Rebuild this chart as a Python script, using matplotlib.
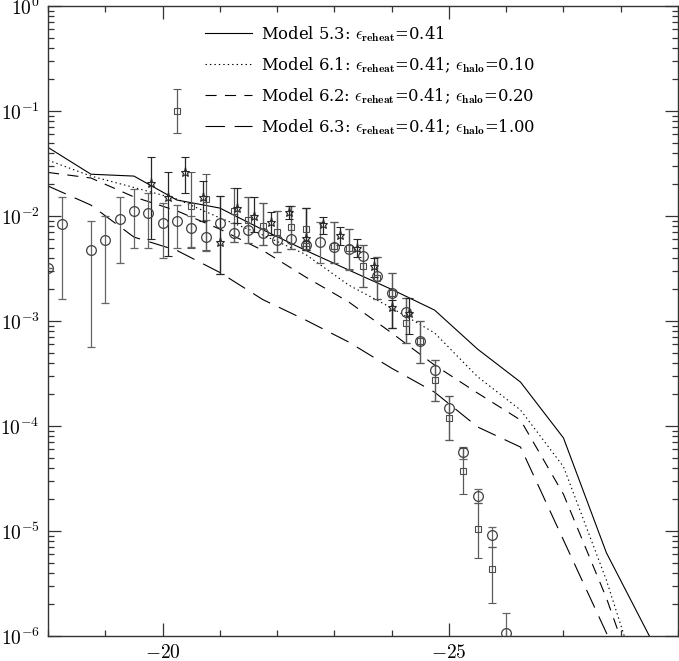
import matplotlib
matplotlib.use("Agg")
import numpy as np
import matplotlib.pyplot as plt
from matplotlib.ticker import MultipleLocator, LogLocator, NullFormatter

plt.rcParams['font.family'] = 'serif'
plt.rcParams['font.serif'] = ['cmr10', 'DejaVu Serif']
plt.rcParams['mathtext.fontset'] = 'cm'
plt.rcParams['axes.formatter.use_mathtext'] = True
plt.rcParams['axes.unicode_minus'] = True
plt.rcParams['lines.scale_dashes'] = False

# model curves (magnitude grid)
model_mag = [-18.0, -18.75, -19.5, -20.25, -21.0, -21.75, -22.5, -23.25,
             -24.0, -24.75, -25.5, -26.25, -27.0, -27.75, -28.5]
model_53 = [4.5e-2, 2.5e-2, 2.4e-2, 1.42e-2, 1.19e-2, 7.4e-3, 4.7e-3, 3.06e-3,
            2.0e-3, 1.27e-3, 5.4e-4, 2.62e-4, 7.7e-5, 6.2e-6, 1.0e-6]
model_61 = [3.4e-2, 2.4e-2, 1.87e-2, 1.45e-2, 9.6e-3, 6.6e-3, 4.3e-3, 2.2e-3,
            1.33e-3, 7.7e-4, 2.95e-4, 1.42e-4, 4.1e-5, 3.4e-6, 1.8e-7]
model_62 = [2.6e-2, 2.3e-2, 1.52e-2, 1.12e-2, 7.5e-3, 4.7e-3, 2.62e-3, 1.52e-3,
            7.7e-4, 3.8e-4, 2.06e-4, 1.14e-4, 2.24e-5, 2.3e-6, 1.6e-7]
model_63 = [1.93e-2, 1.27e-2, 6.3e-3, 4.7e-3, 2.9e-3, 1.6e-3, 1.02e-3, 6.3e-4,
            3.55e-4, 2.1e-4, 9.8e-5, 6.3e-5, 8.2e-6, 1.07e-6, 1.0e-7]

# circles
circ_mag = [-18.0, -18.25, -18.75, -19.0, -19.25, -19.5, -19.75, -20.0, -20.25,
            -20.5, -20.75, -21.0, -21.25, -21.5, -21.75, -22.0, -22.25, -22.5,
            -22.75, -23.0, -23.25, -23.5, -23.75, -24.0, -24.25, -24.5, -24.75,
            -25.0, -25.25, -25.5, -25.75, -26.0]
circ_phi = [3.2e-3, 8.4e-3, 4.7e-3, 5.9e-3, 9.4e-3, 1.12e-2, 1.07e-2, 8.6e-3, 9.0e-3,
            7.7e-3, 6.3e-3, 8.6e-3, 6.9e-3, 7.4e-3, 6.9e-3, 5.9e-3, 6.0e-3, 5.3e-3,
            5.65e-3, 5.1e-3, 4.85e-3, 4.16e-3, 2.68e-3, 1.85e-3, 1.22e-3, 6.45e-4, 3.4e-4,
            1.48e-4, 5.65e-5, 2.15e-5, 9.2e-6, 1.07e-6]
circ_lo = [3.2e-3, 1.62e-3, 5.6e-4, 1.48e-3, 3.6e-3, 5.0e-3, 5.0e-3, 4.0e-3, 5.0e-3,
           5.1e-3, 4.6e-3, 2.8e-3, 5.7e-3, 5.5e-3, 5.3e-3, 4.5e-3, 4.85e-3, 4.7e-3,
           3.56e-3, 3.56e-3, 3.06e-3, 2.1e-3, 1.62e-3, 8.6e-4, 6.2e-4, 4.0e-4, 1.73e-4,
           7.4e-5, 4.9e-5, 1.85e-5, 7.1e-6, 5.0e-7]
circ_hi = [3.2e-3, 1.52e-2, 9.0e-3, 1.0e-2, 1.52e-2, 1.8e-2, 1.65e-2, 1.33e-2, 1.27e-2,
           1.0e-2, 9.2e-3, 1.55e-2, 8.5e-3, 1.52e-2, 1.33e-2, 1.12e-2, 1.24e-2, 1.19e-2,
           8.8e-3, 8.8e-3, 7.5e-3, 5.3e-3, 4.1e-3, 2.86e-3, 1.66e-3, 1.0e-3, 4.25e-4,
           1.93e-4, 6.3e-5, 2.5e-5, 1.1e-5, 1.66e-6]

# squares
sq_mag = [-20.25, -20.5, -20.75, -21.25, -21.5, -21.75, -22.0, -22.25, -22.5, -22.5,
          -23.0, -23.25, -23.5, -23.75, -24.0, -24.25, -24.5, -24.75, -25.0, -25.25,
          -25.5, -25.75]
sq_phi = [1.0e-1, 1.25e-2, 1.45e-2, 1.12e-2, 9.2e-3, 8.0e-3, 7.0e-3, 7.9e-3, 7.5e-3, 5.2e-3,
          5.2e-3, 4.96e-3, 3.34e-3, 2.57e-3, 1.85e-3, 9.6e-4, 6.45e-4, 2.74e-4, 1.19e-4, 3.73e-5,
          1.05e-5, 4.35e-6]
sq_lo = [6.2e-2, 5.0e-3, 4.7e-3, 5.7e-3, 5.5e-3, 5.3e-3, 4.5e-3, 4.8e-3, 4.7e-3, 5.2e-3,
         3.6e-3, 3.1e-3, 2.1e-3, 1.62e-3, 8.6e-4, 6.2e-4, 4.0e-4, 1.73e-4, 7.4e-5, 2.25e-5,
         5.5e-6, 2.06e-6]
sq_hi = [1.62e-1, 2.6e-2, 2.5e-2, 1.85e-2, 1.52e-2, 1.33e-2, 1.12e-2, 1.24e-2, 1.19e-2, 5.2e-3,
         8.8e-3, 7.5e-3, 5.3e-3, 4.1e-3, 2.86e-3, 1.66e-3, 1.0e-3, 4.25e-4, 1.93e-4, 6.2e-5,
         1.85e-5, 7.1e-6]

# stars
st_mag = [-19.8, -20.1, -20.4, -20.7, -21.0, -21.3, -21.6, -21.9, -22.2, -22.5,
          -22.8, -23.1, -23.4, -23.7, -24.0, -24.3]
st_phi = [2.06e-2, 1.52e-2, 2.62e-2, 1.52e-2, 5.65e-3, 1.19e-2, 1.0e-2, 8.8e-3, 1.09e-2, 6.2e-3,
          8.4e-3, 6.6e-3, 4.96e-3, 3.34e-3, 1.36e-3, 1.19e-3]
st_lo = [6.0e-3, 4.2e-3, 1.65e-2, 9.0e-3, 2.8e-3, 8.6e-3, 7.0e-3, 6.6e-3, 9.3e-3, 4.7e-3,
         6.8e-3, 5.3e-3, 4.1e-3, 2.6e-3, 8.6e-4, 7.5e-4]
st_hi = [3.65e-2, 2.6e-2, 3.65e-2, 2.15e-2, 1.55e-2, 1.85e-2, 1.52e-2, 1.09e-2, 1.24e-2, 1.19e-2,
         9.8e-3, 7.9e-3, 6.0e-3, 4.0e-3, 1.6e-3, 1.65e-3]

labels = [r'Model 5.3: $\epsilon_{\mathbf{reheat}}$=0.41',
          r'Model 6.1: $\epsilon_{\mathbf{reheat}}$=0.41; $\epsilon_{\mathbf{halo}}$=0.10',
          r'Model 6.2: $\epsilon_{\mathbf{reheat}}$=0.41; $\epsilon_{\mathbf{halo}}$=0.20',
          r'Model 6.3: $\epsilon_{\mathbf{reheat}}$=0.41; $\epsilon_{\mathbf{halo}}$=1.00']

fig = plt.figure(figsize=(6.79, 6.61), dpi=100)
ax = fig.add_axes([48 / 679, 25 / 661, 630 / 679, 630 / 661])


def errs(y, lo, hi):
    y = np.array(y)
    return [y - np.array(lo), np.array(hi) - y]


ax.errorbar(circ_mag, circ_phi, yerr=errs(circ_phi, circ_lo, circ_hi), fmt='o',
            ms=7, mfc='none', mec='0.25', mew=0.9, ecolor='0.4', elinewidth=0.9,
            capsize=2.8, capthick=0.9, zorder=3)
ax.errorbar(sq_mag, sq_phi, yerr=errs(sq_phi, sq_lo, sq_hi), fmt='s',
            ms=4, mfc='none', mec='0.3', mew=0.8, ecolor='0.35', elinewidth=0.9,
            capsize=2.8, capthick=0.9, zorder=3)
ax.errorbar(st_mag, st_phi, yerr=errs(st_phi, st_lo, st_hi), fmt='*',
            ms=6.5, mfc='none', mec='0.15', mew=0.8, ecolor='0.15', elinewidth=0.9,
            capsize=2.8, capthick=0.9, zorder=3)

lw = 0.8
ax.plot(model_mag, model_53, color='k', lw=lw, ls='-', label=labels[0])
ax.plot(model_mag, model_61, color='k', lw=lw, ls=(0, (1, 2.2)), label=labels[1])
ax.plot(model_mag, model_62, color='k', lw=lw, ls=(0, (8, 6)), label=labels[2])
ax.plot(model_mag, model_63, color='k', lw=lw, ls=(0, (14, 7)), label=labels[3])

ax.set_yscale('log')
ax.set_xlim(-18, -29)
ax.set_ylim(1e-6, 1)

ax.xaxis.set_major_locator(MultipleLocator(5))
ax.xaxis.set_minor_locator(MultipleLocator(1))
ax.yaxis.set_major_locator(LogLocator(base=10, numticks=10))
ax.yaxis.set_minor_locator(LogLocator(base=10, subs=np.arange(2, 10), numticks=10))
ax.yaxis.set_minor_formatter(NullFormatter())

ax.tick_params(which='both', direction='in', top=True, right=True, labelsize=14,
               width=0.9, color='0.2')
ax.tick_params(which='major', length=9.5, pad=6)
ax.tick_params(which='minor', length=4.5)
for s in ax.spines.values():
    s.set_linewidth(1.0)
    s.set_color('0.2')

ax.legend(loc='upper left', bbox_to_anchor=(0.249, 0.9715), frameon=False,
          prop={'family': 'DejaVu Serif', 'size': 11.8},
          handlelength=2.87, handletextpad=0.58, labelspacing=0.7,
          borderpad=0, borderaxespad=0)

fig.savefig('out.png', dpi=100)
